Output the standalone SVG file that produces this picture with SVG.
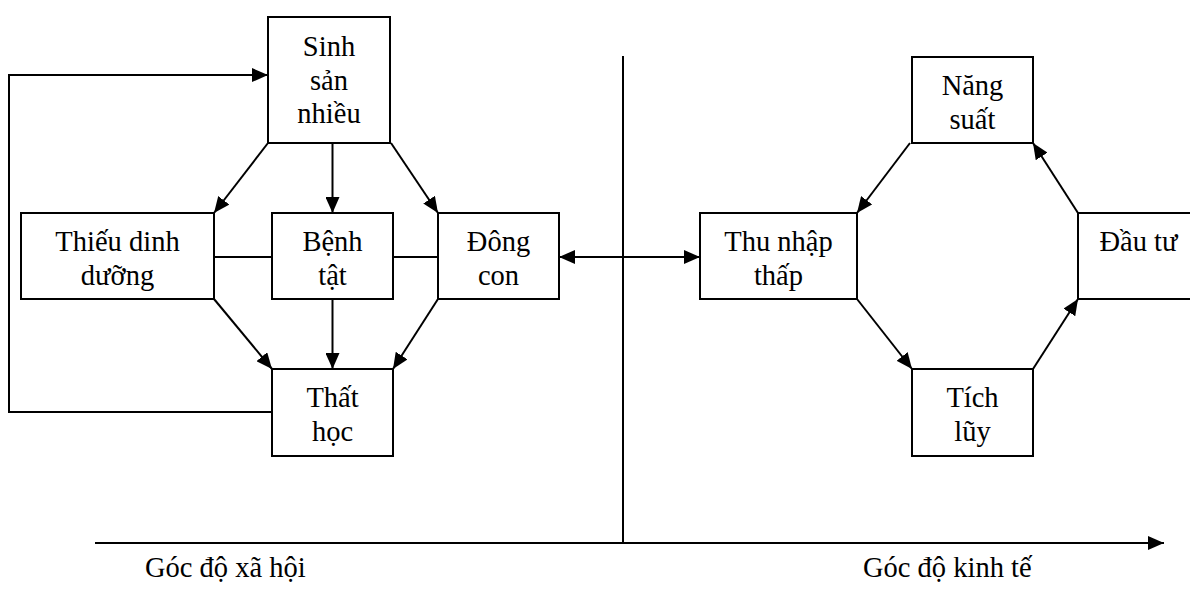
<svg xmlns="http://www.w3.org/2000/svg" width="1190" height="592" viewBox="0 0 1190 592" font-family="'Liberation Serif', 'Times New Roman', serif">
  <style>
    .box { fill: #fff; stroke: #000; stroke-width: 2; }
    .lbl { font-family: 'Liberation Serif', 'Times New Roman', serif; font-size: 28.5px; fill: #000; text-anchor: middle; }
    .cap { font-family: 'Liberation Serif', 'Times New Roman', serif; font-size: 28.5px; fill: #000; text-anchor: start; }
    .ln { fill: none; stroke: #000; stroke-width: 2; }
    .arr { marker-end: url(#ah); }
    .both { marker-start: url(#ah); marker-end: url(#ah); }
  </style>
  <defs>
    <marker id="ah" markerUnits="userSpaceOnUse" markerWidth="16" markerHeight="14" refX="16" refY="7" orient="auto-start-reverse">
      <path d="M0,0 L16,7 L0,14 z" fill="#000"/>
    </marker>
  </defs>

  <rect width="1190" height="592" fill="#fff"/>

  <!-- social side -->
  <g id="sinh-san-nhieu">
    <rect class="box" x="268" y="17" width="122" height="126"/>
    <text class="lbl" x="329" y="56">Sinh<tspan x="329" y="89.5">sản</tspan><tspan x="329" y="123">nhiều</tspan></text>
  </g>
  <g id="thieu-dinh-duong">
    <rect class="box" x="21" y="213" width="193" height="86"/>
    <text class="lbl" x="117.5" y="251">Thiếu dinh<tspan x="117.5" y="285">dưỡng</tspan></text>
  </g>
  <g id="benh-tat">
    <rect class="box" x="272" y="213" width="121" height="86"/>
    <text class="lbl" x="332.5" y="251">Bệnh<tspan x="332.5" y="285">tật</tspan></text>
  </g>
  <g id="dong-con">
    <rect class="box" x="438" y="213" width="121" height="86"/>
    <text class="lbl" x="498.5" y="251">Đông<tspan x="498.5" y="285">con</tspan></text>
  </g>
  <g id="that-hoc">
    <rect class="box" x="272" y="369" width="121" height="87"/>
    <text class="lbl" x="332.5" y="407">Thất<tspan x="332.5" y="441">học</tspan></text>
  </g>

  <!-- economic side -->
  <g id="thu-nhap-thap">
    <rect class="box" x="700" y="213" width="157" height="86"/>
    <text class="lbl" x="778.5" y="251">Thu nhập<tspan x="778.5" y="285">thấp</tspan></text>
  </g>
  <g id="nang-suat">
    <rect class="box" x="912" y="57" width="121" height="86"/>
    <text class="lbl" x="972.5" y="95">Năng<tspan x="972.5" y="129">suất</tspan></text>
  </g>
  <g id="dau-tu">
    <rect class="box" x="1078" y="213" width="121" height="86"/>
    <text class="lbl" x="1138.5" y="251">Đầu tư</text>
  </g>
  <g id="tich-luy">
    <rect class="box" x="912" y="369" width="121" height="87"/>
    <text class="lbl" x="972.5" y="407">Tích<tspan x="972.5" y="441">lũy</tspan></text>
  </g>

  <g id="connectors">
    <!-- feedback loop from Thất học back to Sinh sản nhiều -->
    <path class="ln arr" d="M272,412 H9 V75 H268"/>
    <path class="ln arr" d="M268,143 L214,213"/>
    <path class="ln arr" d="M332.5,143 V213"/>
    <path class="ln arr" d="M391,143 L438,213"/>
    <path class="ln" d="M214,257 H272"/>
    <path class="ln" d="M393,257 H438"/>
    <path class="ln arr" d="M214,299 L272,369"/>
    <path class="ln arr" d="M332.5,299 V369"/>
    <path class="ln arr" d="M438,299 L393,369"/>
    <!-- link between the two sides -->
    <path class="ln both" d="M559,257 H700"/>
    <!-- economic cycle -->
    <path class="ln arr" d="M910,143 L857,213"/>
    <path class="ln arr" d="M857,299 L912,369"/>
    <path class="ln arr" d="M1033,369 L1078,299"/>
    <path class="ln arr" d="M1078,213 L1033,143"/>
    <!-- divider and axis -->
    <path class="ln" d="M623,56 V544"/>
    <path class="ln arr" d="M95,543 H1164"/>
  </g>

  <text class="cap" x="145" y="577">Góc độ xã hội</text>
  <text class="cap" x="863" y="577">Góc độ kinh tế</text>
</svg>
